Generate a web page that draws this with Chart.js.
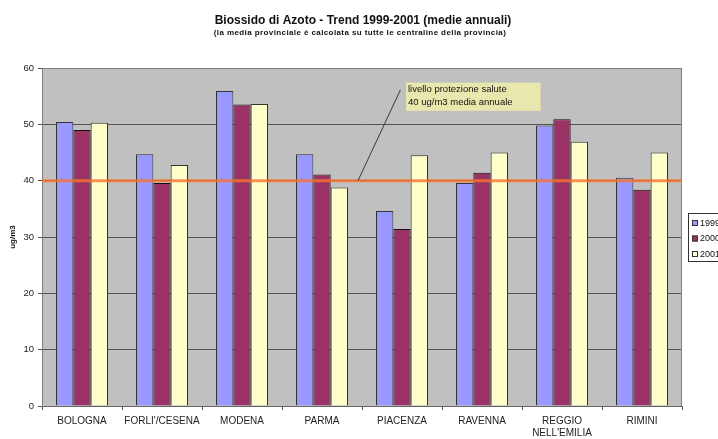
<!DOCTYPE html>
<html>
<head>
<meta charset="utf-8">
<script src="https://cdn.jsdelivr.net/npm/chart.js@4/dist/chart.umd.min.js"></script>
<style>
  html, body { margin: 0; padding: 0; background: #ffffff; overflow: hidden; }
  #wrap { width: 718px; height: 439px; position: relative; }
</style>
</head>
<body>
<div id="wrap"><canvas id="c" width="718" height="439"></canvas></div>
<script>
// Annual mean NO2 per province, 1999-2001 (ug/m3)
const provinces = ['BOLOGNA', "FORLI'/CESENA", 'MODENA', 'PARMA', 'PIACENZA', 'RAVENNA', ['REGGIO', "NELL'EMILIA"], 'RIMINI'];
const years = ['1999', '2000', '2001'];
const no2_1999 = [50.4, 44.7, 55.9, 44.7, 34.6, 39.6, 49.8, 40.5];
const no2_2000 = [49.0, 39.6, 53.5, 41.1, 31.4, 41.4, 50.9, 38.4];
const no2_2001 = [50.3, 42.8, 53.6, 38.8, 44.5, 45.0, 46.9, 45.0];
const yTicks = [0, 10, 20, 30, 40, 50, 60];
const limitValue = 40;
const limitNote = ['livello protezione salute', '40 ug/m3 media annuale'];
const chartTitle = 'Biossido di Azoto - Trend 1999-2001 (medie annuali)';
const chartSubtitle = '(la media provinciale \u00e8 calcolata su tutte le centraline della provincia)';
const yAxisTitle = 'ug/m3';

const FONT = '"Liberation Sans", Arial, sans-serif';

// fractional category index -> pixel
function catPixel(scale, v) {
  const cw = (scale.right - scale.left) / provinces.length;
  return scale.left + (v + 0.5) * cw;
}

const decorations = {
  id: 'decorations',
  beforeDraw(chart) {
    const { ctx, chartArea: a } = chart;
    ctx.save();
    ctx.fillStyle = '#c0c0c0';
    ctx.fillRect(a.left, a.top, a.right - a.left, a.bottom - a.top);
    ctx.restore();
  },
  afterDatasetsDraw(chart) {
    const { ctx, chartArea: a, scales: { x, y } } = chart;
    ctx.save();
    // plot frame
    ctx.strokeStyle = '#808080';
    ctx.lineWidth = 1;
    ctx.beginPath();
    ctx.moveTo(a.left, a.top + 0.5);
    ctx.lineTo(a.right - 0.5, a.top + 0.5);
    ctx.lineTo(a.right - 0.5, a.bottom);
    ctx.stroke();

    // health protection limit
    const ly = y.getPixelForValue(limitValue);
    ctx.strokeStyle = 'rgba(250, 115, 45, 0.8)';
    ctx.lineWidth = 3;
    ctx.beginPath();
    ctx.moveTo(a.left, ly);
    ctx.lineTo(a.right, ly);
    ctx.stroke();

    // note box
    ctx.font = '9.5px ' + FONT;
    const bx = catPixel(x, 4.05);
    const by = y.getPixelForValue(57.4);
    const bb = y.getPixelForValue(52.4);
    const tw = Math.max(...limitNote.map(t => ctx.measureText(t).width));
    ctx.fillStyle = '#e8e8ae';
    ctx.fillRect(bx, by, tw + 30, bb - by);
    ctx.fillStyle = '#111';
    ctx.textBaseline = 'middle';
    ctx.textAlign = 'left';
    ctx.fillText(limitNote[0], bx + 2, by + 7);
    ctx.fillText(limitNote[1], bx + 2, by + 20);

    // leader line
    ctx.strokeStyle = '#3a3a3a';
    ctx.lineWidth = 1;
    ctx.beginPath();
    ctx.moveTo(catPixel(x, 3.98), y.getPixelForValue(56.1));
    ctx.lineTo(catPixel(x, 3.45), ly);
    ctx.stroke();
    ctx.restore();
  },
  afterDraw(chart) {
    const { ctx, chartArea: a } = chart;
    ctx.save();
    ctx.fillStyle = '#111';
    ctx.textAlign = 'center';
    ctx.textBaseline = 'middle';
    ctx.font = 'bold 12px ' + FONT;
    ctx.fillText(chartTitle, 363, 21);
    ctx.font = 'bold 8px ' + FONT;
    ctx.letterSpacing = '0.4px';
    ctx.fillText(chartSubtitle, 360, 33);
    ctx.letterSpacing = '0px';

    // axis title
    ctx.save();
    ctx.translate(13, (a.top + a.bottom) / 2);
    ctx.rotate(-Math.PI / 2);
    ctx.font = 'bold 8px ' + FONT;
    ctx.fillText(yAxisTitle, 0, 0);
    ctx.restore();

    // legend (runs off the right edge)
    const lx = a.right + 6;
    const ltop = 213;
    ctx.fillStyle = '#ffffff';
    ctx.fillRect(lx, ltop, 60, 49);
    ctx.strokeStyle = '#333';
    ctx.lineWidth = 1;
    ctx.strokeRect(lx + 0.5, ltop + 0.5, 60, 48);
    ctx.textAlign = 'left';
    ctx.font = '9px ' + FONT;
    chart.data.datasets.forEach((ds, i) => {
      const ry = ltop + 10 + i * 15.5;
      ctx.fillStyle = ds.backgroundColor;
      ctx.fillRect(lx + 4, ry - 3, 6, 6);
      ctx.strokeStyle = '#333';
      ctx.strokeRect(lx + 4.5, ry - 2.5, 5, 5);
      ctx.fillStyle = '#111';
      ctx.fillText(ds.label, lx + 12, ry + 0.5);
    });
    ctx.restore();
  }
};

const barStyle = { borderWidth: 1, borderColor: '#333333', categoryPercentage: 0.65, barPercentage: 1.0 };

new Chart(document.getElementById('c'), {
  type: 'bar',
  data: {
    labels: provinces,
    datasets: [
      { label: years[0], data: no2_1999, backgroundColor: '#9999ff', ...barStyle },
      { label: years[1], data: no2_2000, backgroundColor: '#993366', borderColor: '#111111', borderWidth: 1, categoryPercentage: 0.65, barPercentage: 1.0 },
      { label: years[2], data: no2_2001, backgroundColor: '#ffffcc', ...barStyle }
    ]
  },
  options: {
    responsive: false,
    animation: false,
    layout: { padding: { top: 68, right: 36, bottom: 0, left: 0 } },
    plugins: {
      legend: { display: false },
      tooltip: { enabled: false },
      title: { display: false }
    },
    scales: {
      x: {
        grid: { offset: true, drawOnChartArea: false, drawTicks: true, tickLength: 4, color: '#555555' },
        border: { display: true, color: '#666666' },
        ticks: { font: { family: FONT, size: 10 }, color: '#222', padding: 5, maxRotation: 0, autoSkip: false },
        afterFit(s) { s.height = 33; }
      },
      y: {
        min: 0,
        max: 60,
        afterBuildTicks(s) { s.ticks = yTicks.map(v => ({ value: v })); },
        grid: { color: '#555555', tickLength: 4, drawTicks: true },
        border: { display: true, color: '#808080' },
        ticks: { font: { family: FONT, size: 9.5 }, color: '#222', padding: 4 },
        afterFit(s) { s.width = 42; }
      }
    }
  },
  plugins: [decorations]
});
</script>
</body>
</html>
